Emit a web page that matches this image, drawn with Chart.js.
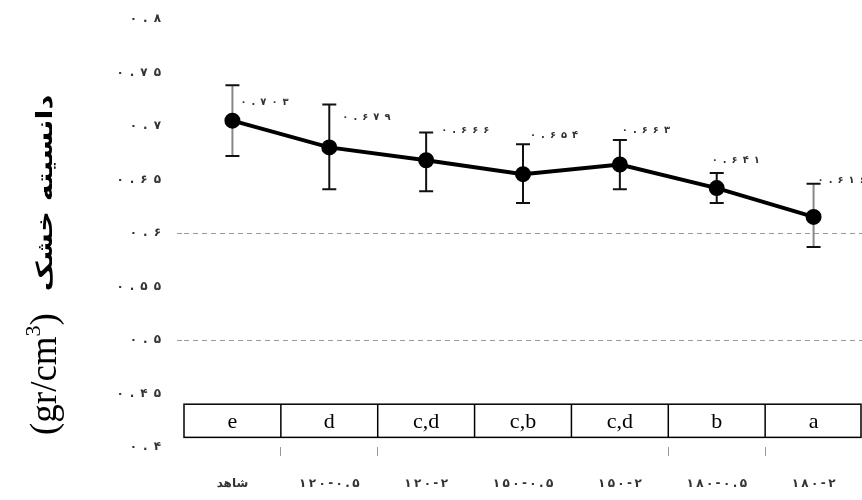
<!DOCTYPE html>
<html>
<head>
<meta charset="utf-8">
<script src="https://cdn.jsdelivr.net/npm/chart.js@4.4.1/dist/chart.umd.min.js"></script>
<style>
  body { margin: 0; background: #fff; }
  canvas { display: block; }
</style>
</head>
<body>
<canvas id="densityChart" width="862" height="500"></canvas>
<script>
// data
const categories = ['شاهد', '۱۲۰-۰.۵', '۱۲۰-۲', '۱۵۰-۰.۵', '۱۵۰-۲', '۱۸۰-۰.۵', '۱۸۰-۲'];
const meanDensity = [0.705, 0.680, 0.668, 0.655, 0.664, 0.642, 0.615];
const errUpper = [0.738, 0.720, 0.694, 0.683, 0.687, 0.656, 0.646];
const errLower = [0.672, 0.641, 0.639, 0.628, 0.641, 0.628, 0.587];
const valueLabels = ['۰.۷۰۳', '۰.۶۷۹', '۰.۶۶۶', '۰.۶۵۴', '۰.۶۶۳', '۰.۶۴۱', '۰.۶۱۶'];
const groupLetters = ['e', 'd', 'c,d', 'c,b', 'c,d', 'b', 'a'];
const yTickLabels = ['۰.۴', '۰.۴۵', '۰.۵', '۰.۵۵', '۰.۶', '۰.۶۵', '۰.۷', '۰.۷۵', '۰.۸'];
const dashedAt = [0.5, 0.6];

// small nudges for the value labels (they were placed by hand in the original)
const labelDx = [8, 13, 15, 7, 2, -5, 4];
const labelDy = [-18, -30, -30, -39, -34, -28, -37];

// the original numbers are spread out, so pad between the characters
function spaced(s, gap) {
  if (/[\u0627-\u06cc]/.test(s.replace(/[\u06f0-\u06f9]/g, ''))) return s;
  return [...s].join(gap);
}

const extras = {
  id: 'extras',
  beforeDatasetsDraw(chart) {
    const ctx = chart.ctx, x = chart.scales.x, y = chart.scales.y;
    ctx.save();
    ctx.lineWidth = 2;
    meanDensity.forEach((v, i) => {
      const px = x.getPixelForValue(i);
      const top = y.getPixelForValue(errUpper[i]);
      const bot = y.getPixelForValue(errLower[i]);
      ctx.strokeStyle = (i === 0 || i === meanDensity.length - 1) ? '#888' : '#111';
      ctx.beginPath();
      ctx.moveTo(px, top); ctx.lineTo(px, bot);
      ctx.stroke();
      ctx.strokeStyle = '#111';
      ctx.beginPath();
      ctx.moveTo(px - 7, top); ctx.lineTo(px + 7, top);
      ctx.moveTo(px - 7, bot); ctx.lineTo(px + 7, bot);
      ctx.stroke();
    });

    // letters table
    const area = chart.chartArea;
    const step = x.getPixelForValue(1) - x.getPixelForValue(0);
    const tTop = y.getPixelForValue(0.44);
    const tBot = y.getPixelForValue(0.409);
    ctx.strokeStyle = '#000';
    ctx.lineWidth = 1.5;
    ctx.strokeRect(area.left, tTop, area.right - area.left - 1, tBot - tTop);
    ctx.font = '22px "Liberation Serif"';
    ctx.fillStyle = '#000';
    ctx.textAlign = 'center';
    ctx.textBaseline = 'middle';
    groupLetters.forEach((g, i) => {
      const cx = x.getPixelForValue(i);
      if (i > 0) {
        ctx.beginPath();
        ctx.moveTo(cx - step / 2, tTop); ctx.lineTo(cx - step / 2, tBot);
        ctx.stroke();
      }
      ctx.fillText(g, cx, (tTop + tBot) / 2 + 1);
    });
    ctx.restore();
  },
  afterDatasetsDraw(chart) {
    const ctx = chart.ctx, x = chart.scales.x, y = chart.scales.y;
    ctx.save();
    ctx.font = 'bold 10px "DejaVu Sans"';
    ctx.fillStyle = '#333';
    ctx.textAlign = 'left';
    ctx.textBaseline = 'middle';
    valueLabels.forEach((t, i) => {
      ctx.fillText(spaced(t, '\u2002'), x.getPixelForValue(i) + labelDx[i], y.getPixelForValue(meanDensity[i]) + labelDy[i]);
    });
    ctx.restore();

    // y axis title: Persian words + (gr/cm3)
    ctx.save();
    ctx.translate(46, 435);
    ctx.rotate(-Math.PI / 2);
    ctx.fillStyle = '#000';
    ctx.textBaseline = 'middle';
    ctx.textAlign = 'left';
    ctx.font = '37px "Liberation Serif"';
    let px = 0;
    ctx.fillText('(gr/cm', px, 0);
    px += ctx.measureText('(gr/cm').width;
    ctx.font = '22px "Liberation Serif"';
    ctx.fillText('3', px, -12);
    px += ctx.measureText('3').width;
    ctx.font = '37px "Liberation Serif"';
    ctx.fillText(')', px, 0);
    ctx.font = 'bold 21px "DejaVu Sans"';
    ctx.textAlign = 'center';
    ctx.direction = 'rtl';
    ctx.translate(242, 0);
    ctx.scale(1.38, 1.05);
    ctx.fillText('دانسیته خشک', 0, 0);
    ctx.restore();
  }
};

new Chart(document.getElementById('densityChart'), {
  type: 'line',
  data: {
    labels: categories,
    datasets: [{
      data: meanDensity,
      borderColor: '#000',
      borderWidth: 4,
      pointRadius: 6,
      pointBackgroundColor: '#000',
      pointBorderColor: '#000',
      tension: 0
    }]
  },
  options: {
    responsive: false,
    animation: false,
    layout: { autoPadding: false, padding: { top: 19, right: 0, left: 0, bottom: 0 } },
    plugins: {
      legend: { display: false },
      tooltip: { enabled: false }
    },
    scales: {
      x: {
        offset: true,
        afterFit: s => { s.height = 53; s.paddingLeft = 0; s.paddingRight = 0; },
        border: { display: false },
        grid: {
          offset: true,
          drawOnChartArea: false,
          tickLength: 9,
          color: c => [1, 2, 5, 6].includes(c.index) ? '#999' : 'rgba(0,0,0,0)'
        },
        ticks: {
          padding: 21,
          maxRotation: 0,
          autoSkip: false,
          color: '#333',
          font: { family: 'DejaVu Sans', size: 12, weight: 'bold' },
          callback: (v, i) => spaced(categories[i], '\u2009')
        }
      },
      y: {
        min: 0.4,
        max: 0.8,
        afterFit: s => { s.width = 184; s.paddingTop = 0; s.paddingBottom = 0; },
        border: { display: false, dash: [5, 4] },
        grid: {
          tickLength: 7,
          tickBorderDash: [5, 4],
          color: c => (c.tick && dashedAt.some(d => Math.abs(c.tick.value - d) < 1e-6)) ? '#999' : 'rgba(0,0,0,0)'
        },
        ticks: {
          stepSize: 0.05,
          padding: 16,
          color: '#333',
          font: { family: 'DejaVu Sans', size: 12, weight: 'bold' },
          callback: (v, i) => spaced(yTickLabels[i], '\u2002')
        }
      }
    }
  },
  plugins: [extras]
});
</script>
</body>
</html>
